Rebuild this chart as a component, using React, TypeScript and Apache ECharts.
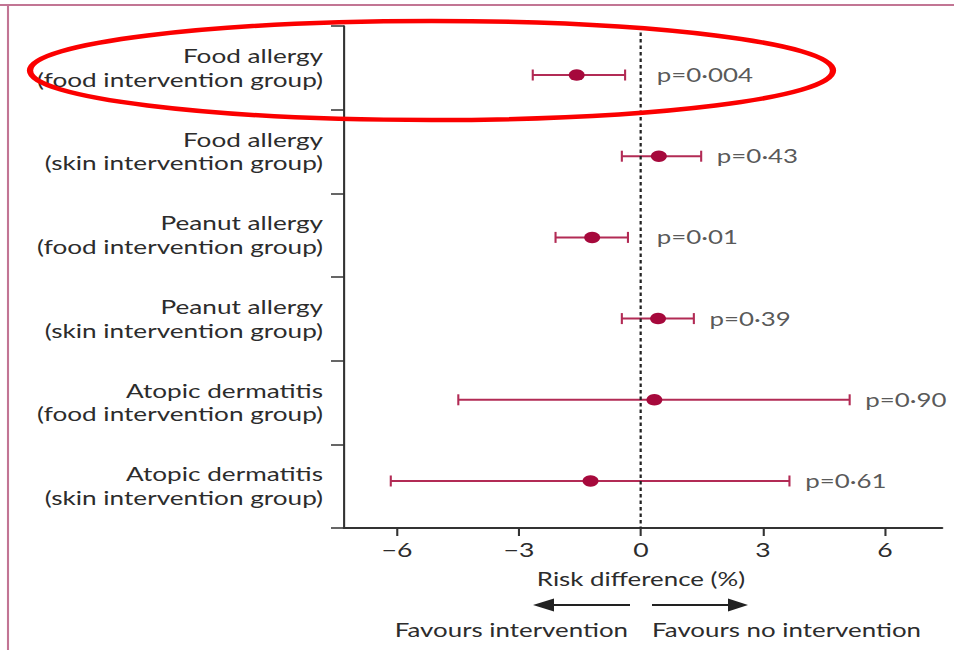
import React, { useEffect, useRef } from "react";
import * as echarts from "echarts";

// ---- data ----
const categories = [
  "Food allergy\n(food intervention group)",
  "Food allergy\n(skin intervention group)",
  "Peanut allergy\n(food intervention group)",
  "Peanut allergy\n(skin intervention group)",
  "Atopic dermatitis\n(food intervention group)",
  "Atopic dermatitis\n(skin intervention group)",
];
const estimates = [-1.58, 0.44, -1.2, 0.42, 0.33, -1.24];
const lowerCI = [-2.66, -0.47, -2.1, -0.47, -4.49, -6.15];
const upperCI = [-0.39, 1.48, -0.32, 1.3, 5.13, 3.65];
const pValues = ["p=0·004", "p=0·43", "p=0·01", "p=0·39", "p=0·90", "p=0·61"];
const xTicks = [-6, -3, 0, 3, 6];
const axisTitle = "Risk difference (%)";
const favoursLeft = "Favours intervention";
const favoursRight = "Favours no intervention";

// ---- layout (the original is horizontally stretched) ----
const FULL_W = 954;
const H = 650;
const INNER_W = 682;
const S = FULL_W / INNER_W;
const px = (x: number) => x / S;

const FONT = "Lato, 'Open Sans', sans-serif";
const TEXT = "#2c2c2c";
const AXIS = "#333333";
const BAR = "#b22b55";
const DOT = "#a6093c";

export default function App() {
  const ref = useRef<HTMLDivElement>(null);
  useEffect(() => {
    if (!ref.current) return;
    const chart = echarts.init(ref.current, undefined, { renderer: "svg" });
    const rows = categories.map((_, i) => i);
    const option: any = {
      animation: false,
      backgroundColor: "#ffffff",
      textStyle: { fontFamily: FONT },
      grid: { left: px(344), right: INNER_W - px(942), top: 26, bottom: H - 528, containLabel: false },
      xAxis: {
        type: "value",
        min: -7.3,
        max: 7.4,
        splitLine: { show: false },
        axisLine: { show: true, onZero: false, lineStyle: { color: AXIS, width: 2 } },
        axisTick: { show: true, customValues: xTicks, length: 8, lineStyle: { color: AXIS, width: 1.5 } },
        axisLabel: {
          customValues: xTicks,
          margin: 12,
          fontSize: 19,
          color: TEXT,
          fontFamily: FONT,
          formatter: (v: number) => (v < 0 ? "\u2212" + Math.abs(v) : String(v)),
        },
      },
      yAxis: [
        {
          type: "category",
          data: categories,
          inverse: true,
          boundaryGap: true,
          axisLine: { show: true, onZero: false, lineStyle: { color: AXIS, width: 1.5 } },
          axisTick: { show: true, length: px(13), lineStyle: { color: AXIS, width: 1.5 } },
          axisLabel: {
            margin: px(21),
            fontSize: 18.7,
            lineHeight: 24,
            color: TEXT,
            fontFamily: FONT,
            align: "right",
          },
          splitLine: { show: false },
        },
        {
          type: "value",
          inverse: true,
          min: -0.6035,
          max: 5.579,
          show: false,
          axisLine: { onZero: false },
          splitLine: { show: false },
        },
      ],
      series: [
        {
          type: "custom",
          yAxisIndex: 1,
          data: rows.map((i) => [lowerCI[i], upperCI[i], i]),
          encode: { x: [0, 1], y: 2 },
          silent: true,
          z: 3,
          renderItem: (params: any, api: any) => {
            const lo = api.coord([api.value(0), api.value(2)]);
            const hi = api.coord([api.value(1), api.value(2)]);
            const cap = 5.5;
            const style = { stroke: BAR, lineWidth: 2 };
            const capStyle = { stroke: BAR, lineWidth: 1.5 };
            return {
              type: "group",
              children: [
                { type: "line", shape: { x1: lo[0], y1: lo[1], x2: hi[0], y2: hi[1] }, style },
                { type: "line", shape: { x1: lo[0], y1: lo[1] - cap, x2: lo[0], y2: lo[1] + cap }, style: capStyle },
                { type: "line", shape: { x1: hi[0], y1: hi[1] - cap, x2: hi[0], y2: hi[1] + cap }, style: capStyle },
              ],
            };
          },
        },
        {
          type: "scatter",
          yAxisIndex: 1,
          data: rows.map((i) => [estimates[i], i]),
          symbol: "circle",
          symbolSize: [px(16), 11.5],
          itemStyle: { color: DOT, opacity: 1 },
          silent: true,
          z: 4,
          markLine: {
            silent: true,
            symbol: ["none", "none"],
            label: { show: false },
            lineStyle: { type: [3.5, 3], color: "#222222", width: 1.6 },
            data: [{ xAxis: 0 }],
          },
        },
        {
          type: "scatter",
          yAxisIndex: 1,
          data: rows.map((i) => [Math.max(upperCI[i], 0), i]),
          symbolSize: 1,
          itemStyle: { color: "rgba(0,0,0,0)" },
          silent: true,
          label: {
            show: true,
            position: "right",
            distance: px(15),
            fontSize: 18.5,
            color: TEXT,
            fontFamily: FONT,
            formatter: (p: any) => pValues[p.dataIndex],
          },
        },
      ],
      graphic: [
        { type: "line", shape: { x1: 0, y1: 5, x2: INNER_W, y2: 5 }, style: { stroke: "#c27594", lineWidth: 2 } },
        { type: "line", shape: { x1: px(8), y1: 5, x2: px(8), y2: H }, style: { stroke: "#c27594", lineWidth: 1.5 } },
        {
          type: "text",
          x: px(641),
          y: 579,
          style: { text: axisTitle, fontSize: 18.5, fill: TEXT, fontFamily: FONT, align: "center", verticalAlign: "middle" },
        },
        { type: "line", shape: { x1: px(552), y1: 605, x2: px(630), y2: 605 }, style: { stroke: "#222", lineWidth: 2 } },
        {
          type: "polygon",
          shape: { points: [[px(533), 605], [px(554), 598.5], [px(554), 611.5]] },
          style: { fill: "#222" },
        },
        { type: "line", shape: { x1: px(652), y1: 605, x2: px(731), y2: 605 }, style: { stroke: "#222", lineWidth: 2 } },
        {
          type: "polygon",
          shape: { points: [[px(748), 605], [px(728), 598.5], [px(728), 611.5]] },
          style: { fill: "#222" },
        },
        {
          type: "text",
          x: px(628),
          y: 630,
          style: { text: favoursLeft, fontSize: 18.5, fill: TEXT, fontFamily: FONT, align: "right", verticalAlign: "middle" },
        },
        {
          type: "text",
          x: px(652),
          y: 630,
          style: { text: favoursRight, fontSize: 18.5, fill: TEXT, fontFamily: FONT, align: "left", verticalAlign: "middle" },
        },
        {
          type: "ellipse",
          shape: { cx: px(431.5), cy: 70.5, rx: px(401.5), ry: 49.5 },
          style: { fill: "none", stroke: "#fb0000", lineWidth: 4.5 },
          z: 100,
        },
      ],
    };
    chart.setOption(option);
    return () => chart.dispose();
  }, []);

  return (
    <div style={{ position: "fixed", left: 0, top: 0, width: FULL_W, height: H, overflow: "hidden", background: "#fff" }}>
      <div
        ref={ref}
        style={{ width: INNER_W, height: H, transform: `scaleX(${S})`, transformOrigin: "0 0" }}
      />
    </div>
  );
}
